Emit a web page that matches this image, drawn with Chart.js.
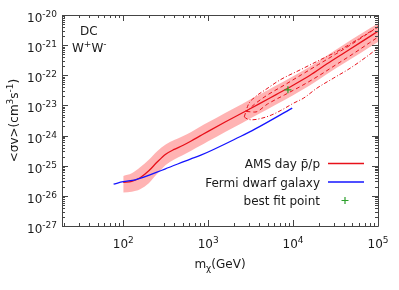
<!DOCTYPE html>
<html><head><meta charset="utf-8">
<script src="https://cdn.jsdelivr.net/npm/chart.js@4/dist/chart.umd.min.js"></script>
<style>html,body{margin:0;padding:0;background:#fff;}#wrap{width:399px;height:290px;}</style>
</head><body><div id="wrap"><canvas id="c" width="399" height="290"></canvas></div>
<script>
// ---- data ----
const amsMass = [100,126,158,200,251,316,398,501,631,794,1000,1585,2512,3981,6310,10000,15849,25119,39811,63096,100000];
const amsSigma = [2.82e-26,3.02e-26,3.98e-26,6.76e-26,1.32e-25,2.40e-25,3.47e-25,4.68e-25,6.61e-25,9.55e-25,1.38e-24,2.82e-24,5.62e-24,1.12e-23,2.29e-23,4.68e-23,1.0e-22,2.40e-22,5.50e-22,1.26e-21,2.88e-21];
const bandUpper = [4.57e-26,5.62e-26,8.91e-26,1.58e-25,3.02e-25,5.01e-25,7.08e-25,9.55e-25,1.32e-24,1.91e-24,2.75e-24,5.62e-24,1.12e-23,2.24e-23,4.57e-23,9.33e-23,1.95e-22,4.57e-22,1.05e-21,2.40e-21,5.25e-21];
const bandLower = [1.29e-26,1.38e-26,1.66e-26,2.63e-26,5.37e-26,1.05e-25,1.62e-25,2.24e-25,3.16e-25,4.47e-25,6.46e-25,1.32e-24,2.63e-24,5.25e-24,1.07e-23,2.19e-23,4.68e-23,1.10e-22,2.51e-22,5.62e-22,1.26e-21];
const fermiMass = [77,100,138,309,617,807,2399,3589,9772];
const fermiSigma = [2.45e-26,2.95e-26,3.39e-26,7.76e-26,1.66e-25,2.19e-25,9.33e-25,1.66e-24,8.13e-24];
const outerUpMass = [2661,2965,3589,4710,7063,12162,20893,35975,61944,100000];
const outerUpSigma = [4.18e-24,1.05e-23,1.93e-23,3.30e-23,7.08e-23,1.52e-22,3.27e-22,7.03e-22,1.76e-21,4.08e-21];
const outerLoMass = [2661,2864,3281,4305,5636,7396,10139,13305,19143,29992,47206,74131,100000];
const outerLoSigma = [4.18e-24,3.59e-24,3.33e-24,3.78e-24,4.88e-24,7.14e-24,1.19e-23,1.75e-23,3.76e-23,8.07e-23,1.73e-22,4.22e-22,8.02e-22];
const innerUpMass = [2818,3548,5012,7943,12589,19953,31623,50119,79433,100000];
const innerUpSigma = [6.31e-24,1.12e-23,2.24e-23,4.79e-23,1.05e-22,2.29e-22,5.01e-22,1.12e-21,2.63e-21,3.98e-21];
const innerLoMass = [2818,3548,5012,7943,12589,19953,31623,50119,79433,100000];
const innerLoSigma = [6.31e-24,6.03e-24,1.12e-23,2.24e-23,4.47e-23,9.55e-23,2.19e-22,5.01e-22,1.20e-21,1.86e-21];
const bestFitMass = [8700];
const bestFitSigma = [3.3e-23];
const xTickExp = [2,3,4,5];
const yTickExp = [-20,-21,-22,-23,-24,-25,-26,-27];
const legendLabels = ['AMS day p\u0304/p','Fermi dwarf galaxy','best fit point'];
const panelLabel1 = 'DC';

const pts = (xs, ys) => xs.map((x, i) => ({x: x, y: ys[i]}));
const RED = '#e8101a', BLUE = '#1414ff', GREEN = '#2ca02c', PINK = 'rgba(255,175,175,0.95)';
const FONT = '"DejaVu Sans", sans-serif';

function supText(ctx, parts, x, y, align) {
  // parts: [text, kind] kind: 0 normal, 1 sup, -1 sub
  let w = 0;
  const fs = k => k === 0 ? 12 : 9;
  parts.forEach(p => { ctx.font = fs(p[1]) + 'px ' + FONT; w += ctx.measureText(p[0]).width; });
  let cx = align === 'right' ? x - w : align === 'center' ? x - w / 2 : x;
  ctx.textAlign = 'left';
  ctx.textBaseline = 'alphabetic';
  parts.forEach(p => {
    ctx.font = fs(p[1]) + 'px ' + FONT;
    const dy = p[1] === 1 ? -5 : p[1] === -1 ? 3 : 0;
    ctx.fillText(p[0], cx, y + dy);
    cx += ctx.measureText(p[0]).width;
  });
}

const decor = {
  id: 'decor',
  afterDraw(chart) {
    const ctx = chart.ctx, a = chart.chartArea;
    const xs = chart.scales.x, ys = chart.scales.y;
    ctx.save();
    ctx.strokeStyle = '#444';
    ctx.lineWidth = 1;
    ctx.beginPath();
    ctx.rect(Math.round(a.left) + 0.5, Math.round(a.top) + 0.5, Math.round(a.right - a.left), Math.round(a.bottom - a.top));
    ctx.stroke();
    // x ticks
    ctx.beginPath();
    for (let e = 1; e <= 5; e++) {
      for (let k = 1; k <= 9; k++) {
        const v = k * Math.pow(10, e);
        if (v < xs.min || v > xs.max) continue;
        const px = Math.round(xs.getPixelForValue(v)) + 0.5;
        const len = k === 1 ? 6 : 3;
        ctx.moveTo(px, a.bottom); ctx.lineTo(px, a.bottom - len);
        ctx.moveTo(px, a.top); ctx.lineTo(px, a.top + len);
      }
    }
    for (let e = -27; e <= -20; e++) {
      for (let k = 1; k <= 9; k++) {
        const v = k * Math.pow(10, e);
        if (v < ys.min * 0.999 || v > ys.max * 1.001) continue;
        const py = Math.round(ys.getPixelForValue(v)) + 0.5;
        const len = k === 1 ? 6 : 3;
        ctx.moveTo(a.left, py); ctx.lineTo(a.left + len, py);
        ctx.moveTo(a.right, py); ctx.lineTo(a.right - len, py);
      }
    }
    ctx.stroke();
    ctx.fillStyle = '#1a1a1a';
    // y tick labels
    yTickExp.forEach(e => {
      const py = ys.getPixelForValue(Math.pow(10, e));
      supText(ctx, [['10', 0], [String(e), 1]], 57, py + 7, 'right');
    });
    xTickExp.forEach(e => {
      const px = xs.getPixelForValue(Math.pow(10, e));
      supText(ctx, [['10', 0], [String(e), 1]], px, 248, 'center');
    });
    // axis titles
    supText(ctx, [['m', 0], ['\u03c7', -1], ['(GeV)', 0]], (a.left + a.right) / 2, 268, 'center');
    ctx.save();
    ctx.translate(18, (a.top + a.bottom) / 2);
    ctx.rotate(-Math.PI / 2);
    supText(ctx, [['<\u03c3v>(cm', 0], ['3', 1], ['s', 0], ['-1', 1], [')', 0]], 0, 0, 'center');
    ctx.restore();
    // panel labels
    supText(ctx, [[panelLabel1, 0]], 80, 35, 'left');
    supText(ctx, [['W', 0], ['+', 1], ['W', 0], ['-', 1]], 72, 52, 'left');
    // legend
    const rows = [163.5, 182, 200.5];
    const cols = [RED, BLUE];
    legendLabels.forEach((t, i) => supText(ctx, [[t, 0]], 320, rows[i] + 4.5, 'right'));
    ctx.lineWidth = 1.5;
    for (let i = 0; i < 2; i++) {
      ctx.strokeStyle = cols[i];
      ctx.beginPath(); ctx.moveTo(328, rows[i]); ctx.lineTo(364, rows[i]); ctx.stroke();
    }
    ctx.strokeStyle = GREEN; ctx.lineWidth = 1.2;
    ctx.beginPath();
    ctx.moveTo(341.5, rows[2]); ctx.lineTo(348.5, rows[2]);
    ctx.moveTo(345, rows[2] - 3.5); ctx.lineTo(345, rows[2] + 3.5);
    ctx.stroke();
    ctx.restore();
  }
};

new Chart(document.getElementById('c'), {
  type: 'line',
  data: {
    datasets: [
      {data: pts(bestFitMass, bestFitSigma), showLine: false, pointStyle: 'cross', pointRadius: 3.5, borderColor: GREEN, borderWidth: 1.2, order: 0},
      {data: pts(fermiMass, fermiSigma), borderColor: BLUE, borderWidth: 1.3, cubicInterpolationMode: 'monotone', order: 1},
      {data: pts(amsMass, amsSigma), borderColor: RED, borderWidth: 1.3, cubicInterpolationMode: 'monotone', order: 2},
      {data: pts(innerUpMass, innerUpSigma), borderColor: RED, borderWidth: 1, borderDash: [4, 3], cubicInterpolationMode: 'monotone', order: 3},
      {data: pts(innerLoMass, innerLoSigma), borderColor: RED, borderWidth: 1, borderDash: [4, 3], cubicInterpolationMode: 'monotone', order: 4},
      {data: pts(outerUpMass, outerUpSigma), borderColor: RED, borderWidth: 1, borderDash: [4, 2, 1, 2], cubicInterpolationMode: 'monotone', order: 5},
      {data: pts(outerLoMass, outerLoSigma), borderColor: RED, borderWidth: 1, borderDash: [4, 2, 1, 2], cubicInterpolationMode: 'monotone', order: 6},
      {data: pts(amsMass, bandUpper), borderWidth: 0, borderColor: 'rgba(0,0,0,0)', backgroundColor: PINK, fill: '+1', cubicInterpolationMode: 'monotone', order: 10},
      {data: pts(amsMass, bandLower), borderWidth: 0, borderColor: 'rgba(0,0,0,0)', fill: false, cubicInterpolationMode: 'monotone', order: 11}
    ]
  },
  options: {
    responsive: false, animation: false, devicePixelRatio: 1,
    layout: {padding: {left: 62, right: 21, top: 15, bottom: 64}},
    elements: {point: {radius: 0}},
    scales: {
      x: {type: 'logarithmic', min: 19, max: 1e5, display: false},
      y: {type: 'logarithmic', min: 1e-27, max: 1e-20, display: false}
    },
    plugins: {legend: {display: false}, tooltip: {enabled: false}}
  },
  plugins: [decor]
});
</script></body></html>
